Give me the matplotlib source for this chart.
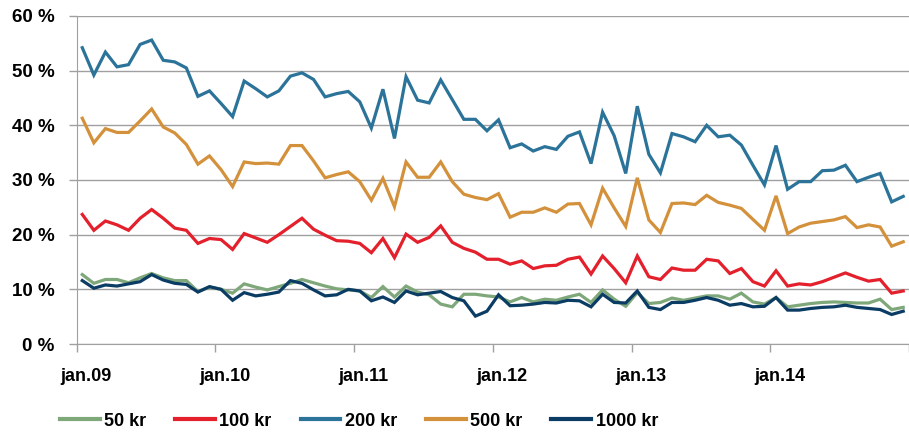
import matplotlib
matplotlib.use('Agg')
import matplotlib.pyplot as plt
import numpy as np

# månedlige andeler, jan.09 - des.14
kr50 = [12.7, 11.1, 11.8, 11.8, 11.2, 12.1, 12.9, 12.1, 11.6, 11.6, 9.6, 10.4,
        10.0, 9.3, 11.0, 10.4, 9.9, 10.5, 11.1, 11.8, 11.2, 10.6, 10.1, 9.9,
        9.7, 8.5, 10.5, 8.6, 10.6, 9.5, 9.0, 7.3, 6.8, 9.1, 9.1, 8.8,
        8.6, 7.7, 8.5, 7.7, 8.2, 8.0, 8.6, 9.1, 7.6, 9.9, 8.2, 6.9,
        9.4, 7.4, 7.6, 8.4, 8.0, 8.4, 8.8, 8.8, 8.2, 9.3, 7.7, 7.3,
        8.5, 6.8, 7.1, 7.4, 7.6, 7.7, 7.6, 7.5, 7.5, 8.2, 6.3, 6.7]
kr100 = [23.7, 20.8, 22.5, 21.8, 20.8, 23.0, 24.6, 23.0, 21.2, 20.8, 18.4, 19.3,
         19.1, 17.3, 20.2, 19.4, 18.6, 20.0, 21.5, 23.0, 21.0, 19.9, 18.9, 18.8,
         18.4, 16.7, 19.3, 15.8, 20.1, 18.6, 19.5, 21.6, 18.6, 17.5, 16.8, 15.5,
         15.5, 14.6, 15.2, 13.8, 14.3, 14.4, 15.5, 15.9, 12.8, 16.1, 13.8, 11.2,
         16.1, 12.3, 11.8, 13.9, 13.5, 13.5, 15.5, 15.2, 12.9, 13.8, 11.4, 10.6,
         13.4, 10.6, 11.0, 10.8, 11.4, 12.2, 13.0, 12.2, 11.5, 11.8, 9.3, 9.7]
kr200 = [54.2, 49.2, 53.4, 50.7, 51.1, 54.8, 55.6, 51.9, 51.6, 50.5, 45.3, 46.3,
         44.0, 41.6, 48.1, 46.7, 45.2, 46.3, 49.0, 49.6, 48.4, 45.2, 45.8, 46.2,
         44.3, 39.5, 46.6, 37.6, 48.9, 44.6, 44.1, 48.3, 44.7, 41.1, 41.1, 39.0,
         41.0, 35.9, 36.6, 35.3, 36.1, 35.6, 38.0, 38.8, 33.0, 42.4, 38.1, 31.2,
         43.5, 34.7, 31.3, 38.5, 37.9, 37.0, 40.0, 37.9, 38.2, 36.4, 32.7, 29.1,
         36.3, 28.3, 29.7, 29.7, 31.7, 31.8, 32.7, 29.7, 30.5, 31.2, 26.0, 27.0]
kr500 = [41.3, 36.8, 39.4, 38.7, 38.7, 40.8, 43.0, 39.7, 38.6, 36.5, 32.9, 34.4,
         31.9, 28.8, 33.3, 33.0, 33.1, 32.9, 36.3, 36.3, 33.5, 30.4, 31.0, 31.5,
         29.7, 26.3, 30.3, 25.1, 33.3, 30.5, 30.5, 33.3, 29.7, 27.4, 26.8, 26.4,
         27.5, 23.2, 24.1, 24.1, 24.9, 24.1, 25.6, 25.7, 21.8, 28.5, 24.9, 21.5,
         30.4, 22.7, 20.4, 25.7, 25.8, 25.5, 27.2, 25.9, 25.4, 24.8, 22.8, 20.8,
         27.1, 20.2, 21.4, 22.1, 22.4, 22.7, 23.3, 21.3, 21.8, 21.4, 17.9, 18.7]
kr1000 = [11.6, 10.2, 10.8, 10.6, 11.0, 11.4, 12.7, 11.7, 11.1, 10.9, 9.5, 10.5,
          10.0, 8.0, 9.4, 8.8, 9.1, 9.5, 11.6, 11.1, 9.9, 8.8, 9.0, 10.0,
          9.7, 7.9, 8.6, 7.6, 9.7, 9.0, 9.3, 9.6, 8.5, 7.9, 5.1, 6.0,
          9.0, 7.0, 7.1, 7.3, 7.6, 7.5, 8.0, 7.9, 6.8, 9.1, 7.6, 7.5,
          9.7, 6.7, 6.3, 7.6, 7.6, 8.0, 8.5, 8.0, 7.1, 7.4, 6.8, 6.9,
          8.5, 6.2, 6.2, 6.5, 6.7, 6.8, 7.1, 6.7, 6.5, 6.3, 5.4, 6.0]

year_labels = ['jan.09', 'jan.10', 'jan.11', 'jan.12', 'jan.13', 'jan.14']

series = [('50 kr', kr50, '#7fa87a'),
          ('100 kr', kr100, '#e3202c'),
          ('200 kr', kr200, '#2b7399'),
          ('500 kr', kr500, '#d4913b'),
          ('1000 kr', kr1000, '#0b3c64')]

plt.rcParams['font.family'] = ['Liberation Sans Narrow', 'Liberation Sans', 'DejaVu Sans']
plt.rcParams['font.weight'] = 'bold'

fig = plt.figure(figsize=(9.09, 4.36), dpi=100)
ax = fig.add_axes([76.5 / 909, 92 / 436, 1 - 76.5 / 909, 328 / 436])

x = np.arange(len(kr50))
# tegnerekkefølge: 500/200 bak, små sedler foran
for name, vals, col in [series[3], series[2], series[1], series[0], series[4]]:
    ax.plot(x, vals, color=col, lw=2.3, solid_joinstyle='miter', label=name)

ax.set_xlim(-0.5, 71.3)
ax.set_ylim(0, 60)
ax.set_yticks(np.arange(0, 61, 10))
ax.set_yticklabels([f'{v} %' for v in range(0, 61, 10)], fontsize=13.5, fontweight='bold')
ax.grid(axis='y', color='#a0a0a0', lw=1)
ax.set_axisbelow(True)

# år-markering mellom kategoriene, etiketter under første måned
ax.set_xticks(np.arange(-0.5, 72, 12))
ax.set_xticklabels([])
ax.set_xticks(np.arange(0, 72, 12) + 0.3, minor=True)
ax.set_xticklabels(year_labels, minor=True, fontsize=13, fontweight='bold')
ax.tick_params(axis='x', which='major', length=6, color='#a0a0a0', width=1)
ax.tick_params(axis='x', which='minor', length=0, pad=17)
ax.tick_params(axis='y', length=6, color='#a0a0a0', width=1, pad=10)

for s in ['top', 'right']:
    ax.spines[s].set_visible(False)
ax.spines['left'].set_color('#a0a0a0')
ax.spines['bottom'].set_color('#a0a0a0')

handles = {h.get_label(): h for h in ax.get_lines()}
order = [s[0] for s in series]
leg = fig.legend([handles[n] for n in order], order, loc='center left',
                 bbox_to_anchor=(60 / 909, 15 / 436), ncol=5, frameon=False,
                 fontsize=13, handlelength=2.2, handletextpad=0.25,
                 columnspacing=1.6, borderpad=0, borderaxespad=0)
for t in leg.get_texts():
    t.set_fontweight('bold')
for l in leg.get_lines():
    l.set_linewidth(3)

fig.savefig('out.png', dpi=100)
